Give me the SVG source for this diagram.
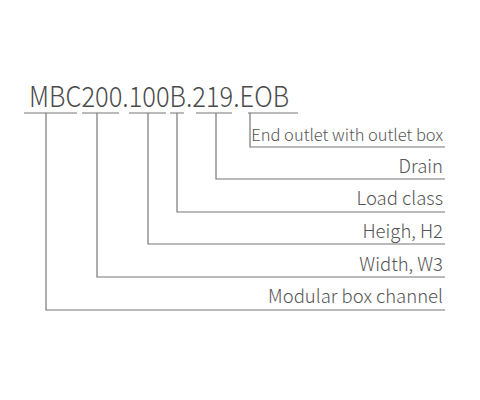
<svg xmlns="http://www.w3.org/2000/svg" width="480" height="400" viewBox="0 0 480 400">
<style>
.code{font-family:"Noto Sans CJK SC","Noto Sans",sans-serif;font-size:28px;fill:#4a4a4a;font-weight:300}
.lbl{font-family:"Noto Sans CJK SC","Noto Sans",sans-serif;font-size:18.5px;fill:#555;text-anchor:end;font-weight:300}
.sm{font-size:16.5px}
.ln{stroke:#777;stroke-width:1.2;fill:none}
</style>
<rect width="480" height="400" fill="#fff"/>
<g id="code"><text class="code" x="29" y="107" textLength="260" lengthAdjust="spacingAndGlyphs">MBC200.100B.219.EOB</text></g>
<g id="connectors">
<path class="ln" d="M24 113H77M82 113H119M129 113H166M170 113H184M196 113H232M248 113H298"/>
<path class="ln" d="M250 113V147H445"/>
<path class="ln" d="M216 113V179H445"/>
<path class="ln" d="M177 113V212H445"/>
<path class="ln" d="M148 113V244H445"/>
<path class="ln" d="M97 113V277H445"/>
<path class="ln" d="M46 113V310H445"/>
</g>
<g id="n1"><text class="lbl sm" x="443" y="141">End outlet with outlet box</text></g>
<g id="n2"><text class="lbl" x="443" y="173">Drain</text></g>
<g id="n3"><text class="lbl" x="443" y="205">Load class</text></g>
<g id="n4"><text class="lbl" x="443" y="238">Heigh, H2</text></g>
<g id="n5"><text class="lbl" x="443" y="271">Width, W3</text></g>
<g id="n6"><text class="lbl" x="443" y="303">Modular box channel</text></g>
</svg>
